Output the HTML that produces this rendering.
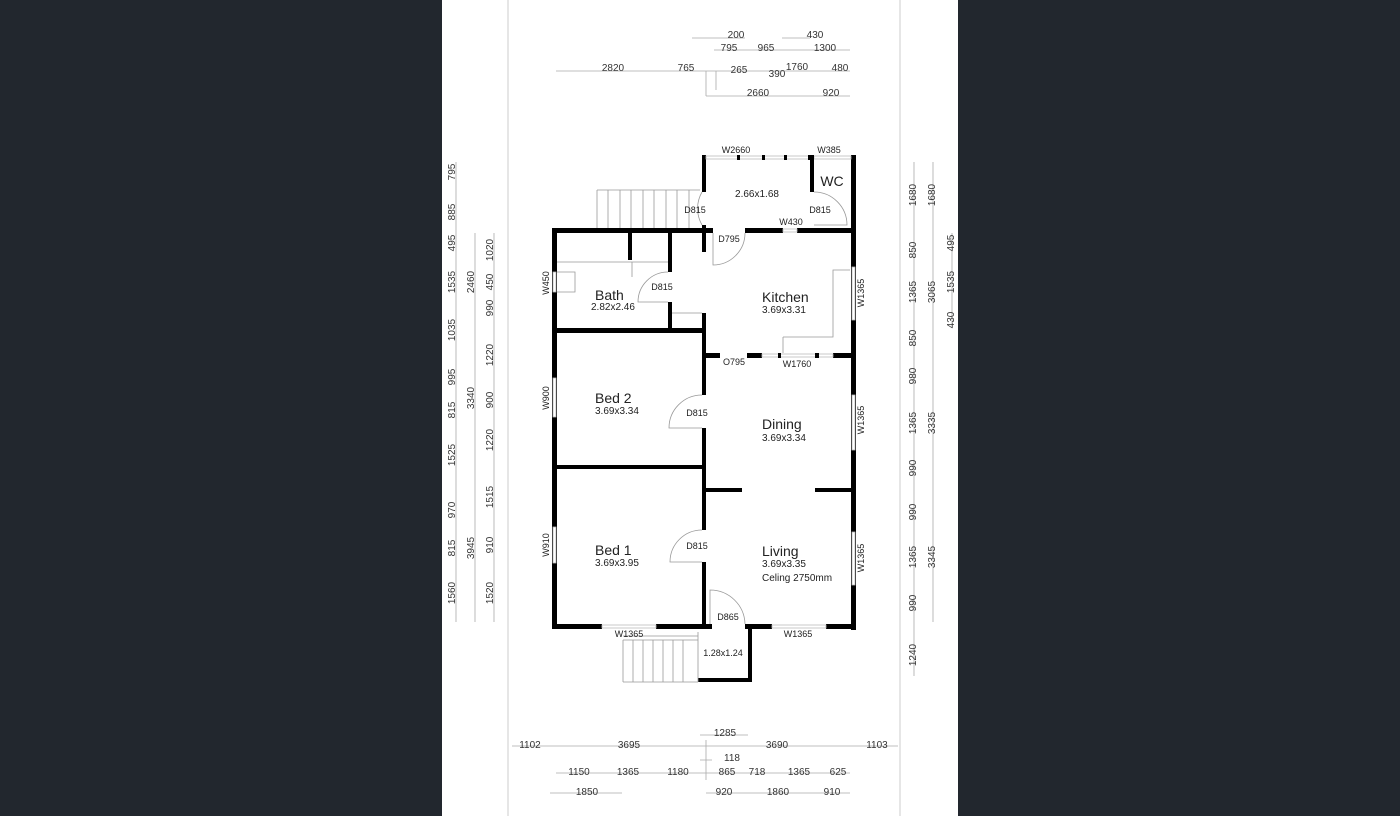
<!DOCTYPE html><html><head><style>body{margin:0;background:#22272e}svg{display:block}</style></head><body>
<svg width="1400" height="816" xmlns="http://www.w3.org/2000/svg" font-family="Liberation Sans, sans-serif">
<rect width="1400" height="816" fill="#22272e"/>
<rect x="442" y="0" width="516" height="816" fill="#fff"/>
<line x1="508" y1="0" x2="508" y2="816" stroke="#ccc"/>
<line x1="900" y1="0" x2="900" y2="816" stroke="#ccc"/>
<g fill="#000">
<!-- annex -->
<rect x="702" y="155" width="4" height="37"/><rect x="702" y="225" width="4" height="27"/>
<rect x="702" y="155" width="4" height="5"/><rect x="808" y="155" width="47" height="5" fill="none"/>
<rect x="810" y="155" width="4" height="37"/><rect x="851" y="155" width="5" height="475"/>
<rect x="851" y="155" width="4" height="5"/>
<rect x="745" y="228" width="38" height="5"/><rect x="797" y="228" width="58" height="5"/>
<!-- main top -->
<rect x="552" y="228" width="161" height="5"/>
<rect x="552" y="228" width="5" height="401"/>
<rect x="628" y="233" width="4" height="27"/>
<rect x="668" y="233" width="4" height="39"/><rect x="668" y="302" width="4" height="28"/>
<rect x="702" y="313" width="4" height="82"/><rect x="702" y="428" width="4" height="102"/><rect x="702" y="562" width="4" height="67"/>
<rect x="552" y="328" width="154" height="5"/>
<rect x="702" y="353" width="18" height="5"/><rect x="747" y="353" width="15" height="5"/><rect x="833" y="353" width="22" height="5"/>
<rect x="778" y="353" width="3" height="5"/><rect x="815" y="353" width="4" height="5"/>
<rect x="552" y="465" width="154" height="4"/>
<rect x="706" y="488" width="36" height="4"/><rect x="815" y="488" width="37" height="4"/>
<rect x="552" y="624" width="50" height="5"/><rect x="656" y="624" width="56" height="5"/><rect x="745" y="624" width="27" height="5"/><rect x="826" y="624" width="30" height="5"/>
<rect x="748" y="624" width="4" height="58"/><rect x="698" y="678" width="54" height="4"/>
<rect x="737" y="155" width="3" height="5"/><rect x="762" y="155" width="3" height="5"/><rect x="784" y="155" width="3" height="5"/>
</g>
<!-- white window gaps -->
<g fill="#fff" stroke="#bbb" stroke-width="0.8">
<rect x="706" y="156" width="104" height="3"/><rect x="814" y="156" width="37" height="3"/>
<rect x="783" y="229" width="14" height="3"/>
<rect x="762" y="354" width="71" height="3"/>
<rect x="852" y="267" width="3" height="53"/><rect x="852" y="395" width="3" height="55"/><rect x="852" y="532" width="3" height="53"/>
<rect x="553" y="272" width="3" height="20"/><rect x="553" y="378" width="3" height="39"/><rect x="553" y="527" width="3" height="36"/>
<rect x="602" y="625" width="54" height="3"/><rect x="772" y="625" width="54" height="3"/>
</g>
<g fill="#000"><rect x="737" y="155" width="3" height="5"/><rect x="762" y="155" width="3" height="5"/><rect x="784" y="155" width="3" height="5"/><rect x="778" y="353" width="3" height="5"/><rect x="815" y="353" width="4" height="5"/><rect x="808" y="155" width="6" height="5"/></g>
<g fill="none" stroke="#999" stroke-width="0.8">
<!-- stairs top -->
<path d="M597 190H700M597 190V228"/>
<path d="M608 190V228M620 190V228M631 190V228M643 190V228M654 190V228M666 190V228M677 190V228M689 190V228"/>
<!-- stairs bottom -->
<path d="M623 640H698M623 682H698M623 640V682M633 640V682M643 640V682M653 640V682M663 640V682M673 640V682M683 640V682M698 632V682M623 636H698"/>
<!-- bath fixtures -->
<path d="M557 262H668M557 272H575V292H557M632 262V277M672 313H702M783 337V353M783 337H833V270H850"/>
<!-- doors -->
<path d="M702 192A33 33 0 0 0 702 225H702"/>
<path d="M814 192A33 33 0 0 1 847 225H814"/>
<path d="M713 233V265A32 32 0 0 0 745 233"/>
<path d="M668 272A30 30 0 0 0 638 302H668"/>
<path d="M702 395A33 33 0 0 0 669 428H702"/>
<path d="M702 530A32 32 0 0 0 670 562H702"/>
<path d="M710 624V590A35 35 0 0 1 745 624"/>
</g>
<g font-size="9" fill="#222">
<text x="736" y="153" text-anchor="middle" font-size="9">W2660</text><text x="829" y="153" text-anchor="middle">W385</text>
<text x="695" y="213" text-anchor="middle">D815</text><text x="820" y="213" text-anchor="middle">D815</text>
<text x="791" y="225" text-anchor="middle">W430</text><text x="729" y="242" text-anchor="middle">D795</text>
<text x="662" y="290" text-anchor="middle">D815</text><text x="734" y="365" text-anchor="middle">O795</text><text x="797" y="367" text-anchor="middle">W1760</text>
<text x="697" y="416" text-anchor="middle">D815</text><text x="697" y="549" text-anchor="middle">D815</text><text x="728" y="620" text-anchor="middle">D865</text>
<text x="629" y="637" text-anchor="middle">W1365</text><text x="798" y="637" text-anchor="middle">W1365</text>
<text x="723" y="656" text-anchor="middle">1.28x1.24</text>
<text transform="translate(549,283) rotate(-90)" text-anchor="middle">W450</text>
<text transform="translate(549,398) rotate(-90)" text-anchor="middle">W900</text>
<text transform="translate(549,545) rotate(-90)" text-anchor="middle">W910</text>
<text transform="translate(864,293) rotate(-90)" text-anchor="middle">W1365</text>
<text transform="translate(864,420) rotate(-90)" text-anchor="middle">W1365</text>
<text transform="translate(864,558) rotate(-90)" text-anchor="middle">W1365</text>
<text x="757" y="197" text-anchor="middle" font-size="10">2.66x1.68</text>
<text x="832" y="186" text-anchor="middle" font-size="14">WC</text>
<text x="595" y="300" font-size="14">Bath</text><text x="591" y="310" font-size="10">2.82x2.46</text>
<text x="762" y="302" font-size="14">Kitchen</text><text x="762" y="313" font-size="10">3.69x3.31</text>
<text x="595" y="403" font-size="14">Bed 2</text><text x="595" y="414" font-size="10">3.69x3.34</text>
<text x="762" y="429" font-size="14">Dining</text><text x="762" y="441" font-size="10">3.69x3.34</text>
<text x="595" y="555" font-size="14">Bed 1</text><text x="595" y="566" font-size="10">3.69x3.95</text>
<text x="762" y="556" font-size="14">Living</text><text x="762" y="567" font-size="10">3.69x3.35</text><text x="762" y="581" font-size="10">Celing 2750mm</text>
</g>
<!-- dimension lines -->
<g stroke="#aaa" stroke-width="0.8" fill="none">
<path d="M692 38H745M782 38H810M714 50H850M556 71H850M706 96H850M706 71V96M716 71V90"/>
<path d="M456 162V622M475 233V622M494 233V622M914 162V676M933 162V622M952 233V328"/>
<path d="M512 746H898M700 735H748M700 760H712M556 773H850M550 793H622M706 793H850M706 740V780"/>
</g>
<g font-size="10" fill="#333" text-anchor="middle">
<text x="736" y="38" fill="#333">200</text><text x="815" y="38">430</text>
<text x="729" y="51">795</text><text x="766" y="51">965</text><text x="825" y="51">1300</text>
<text x="613" y="71">2820</text><text x="686" y="71">765</text><text x="739" y="73">265</text><text x="777" y="77">390</text><text x="797" y="70">1760</text><text x="840" y="71">480</text>
<text x="758" y="96">2660</text><text x="831" y="96">920</text>
<text x="530" y="748">1102</text><text x="629" y="748">3695</text><text x="725" y="736">1285</text><text x="777" y="748">3690</text><text x="877" y="748">1103</text>
<text x="732" y="761">118</text>
<text x="579" y="775">1150</text><text x="628" y="775">1365</text><text x="678" y="775">1180</text><text x="727" y="775">865</text><text x="757" y="775">718</text><text x="799" y="775">1365</text><text x="838" y="775">625</text>
<text x="587" y="795">1850</text><text x="724" y="795">920</text><text x="778" y="795">1860</text><text x="832" y="795">910</text>
</g>
<g font-size="10" fill="#333" text-anchor="middle">
<text transform="translate(455,172) rotate(-90)">795</text><text transform="translate(455,212) rotate(-90)">885</text><text transform="translate(455,243) rotate(-90)">495</text><text transform="translate(455,282) rotate(-90)">1535</text><text transform="translate(455,330) rotate(-90)">1035</text><text transform="translate(455,377) rotate(-90)">995</text><text transform="translate(455,410) rotate(-90)">815</text><text transform="translate(455,455) rotate(-90)">1525</text><text transform="translate(455,510) rotate(-90)">970</text><text transform="translate(455,548) rotate(-90)">815</text><text transform="translate(455,593) rotate(-90)">1560</text>
<text transform="translate(474,282) rotate(-90)">2460</text><text transform="translate(474,398) rotate(-90)">3340</text><text transform="translate(474,548) rotate(-90)">3945</text>
<text transform="translate(493,250) rotate(-90)">1020</text><text transform="translate(493,282) rotate(-90)">450</text><text transform="translate(493,308) rotate(-90)">990</text><text transform="translate(493,355) rotate(-90)">1220</text><text transform="translate(493,400) rotate(-90)">900</text><text transform="translate(493,440) rotate(-90)">1220</text><text transform="translate(493,497) rotate(-90)">1515</text><text transform="translate(493,545) rotate(-90)">910</text><text transform="translate(493,593) rotate(-90)">1520</text>
<text transform="translate(916,195) rotate(-90)">1680</text><text transform="translate(916,250) rotate(-90)">850</text><text transform="translate(916,292) rotate(-90)">1365</text><text transform="translate(916,338) rotate(-90)">850</text><text transform="translate(916,376) rotate(-90)">980</text><text transform="translate(916,423) rotate(-90)">1365</text><text transform="translate(916,468) rotate(-90)">990</text><text transform="translate(916,512) rotate(-90)">990</text><text transform="translate(916,557) rotate(-90)">1365</text><text transform="translate(916,603) rotate(-90)">990</text><text transform="translate(916,655) rotate(-90)">1240</text>
<text transform="translate(935,195) rotate(-90)">1680</text><text transform="translate(935,292) rotate(-90)">3065</text><text transform="translate(935,423) rotate(-90)">3335</text><text transform="translate(935,557) rotate(-90)">3345</text>
<text transform="translate(954,243) rotate(-90)">495</text><text transform="translate(954,282) rotate(-90)">1535</text><text transform="translate(954,320) rotate(-90)">430</text>
</g>
</svg></body></html>
